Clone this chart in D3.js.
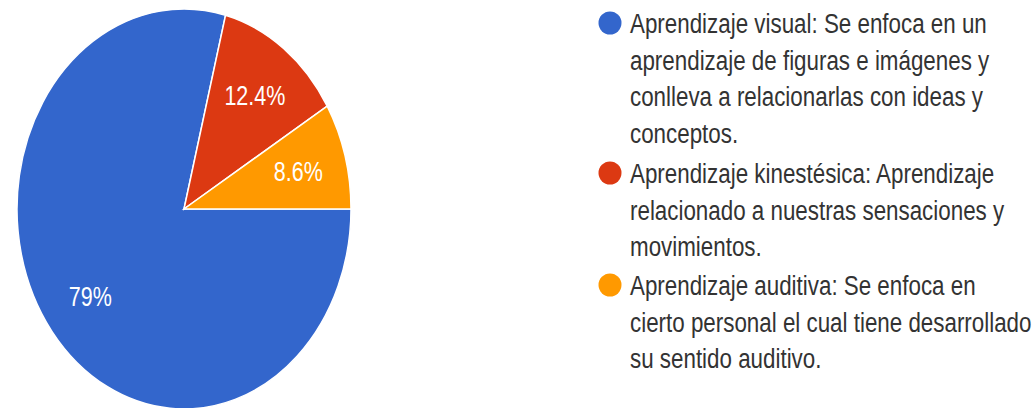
<!DOCTYPE html>
<html>
<head>
<meta charset="utf-8">
<script src="https://cdn.jsdelivr.net/npm/d3@7"></script>
<style>
  body { margin: 0; background: #fff; }
  svg { display: block; }
</style>
</head>
<body>
<svg id="chart" width="1036" height="408"></svg>
<script>
// Chart data
const categories = ["Aprendizaje visual", "Aprendizaje kinestésica", "Aprendizaje auditiva"];
const percents = [79, 12.4, 8.6];
const sliceLabels = ["79%", "12.4%", "8.6%"];
const colors = ["#3366cc", "#dc3912", "#ff9900"];
const legendLines = [
    ["Aprendizaje visual: Se enfoca en un", "aprendizaje de figuras e imágenes y", "conlleva a relacionarlas con ideas y", "conceptos."],
    ["Aprendizaje kinestésica: Aprendizaje", "relacionado a nuestras sensaciones y", "movimientos."],
    ["Aprendizaje auditiva: Se enfoca en", "cierto personal el cual tiene desarrollado", "su sentido auditivo."]
];

const svg = d3.select("#chart");

// Pie is drawn as a circle then stretched into an ellipse (like the source image)
const rx = 167, ry = 200;
const cx = 184, cy = 209;

const pie = d3.pie()
    .sort(null)
    .value(d => d)
    .startAngle(Math.PI / 2)
    .endAngle(Math.PI / 2 + 2 * Math.PI);

const arc = d3.arc().innerRadius(0).outerRadius(rx);
const labelArc = d3.arc().innerRadius(rx * 0.71).outerRadius(rx * 0.71);

const pieG = svg.append("g")
    .attr("transform", `translate(${cx},${cy}) scale(1,${ry / rx})`);

const arcs = pie(percents);

pieG.selectAll("path")
    .data(arcs)
    .enter()
    .append("path")
    .attr("d", arc)
    .style("fill", (d, i) => colors[i])
    .style("stroke", "#fff")
    .style("stroke-width", 1.5)
    .attr("vector-effect", "non-scaling-stroke");

const font = "'Liberation Sans', Arial, sans-serif";

// Slice labels, squeezed horizontally like the source
svg.selectAll("text.slice")
    .data(arcs)
    .enter()
    .append("text")
    .attr("class", "slice")
    .attr("text-anchor", "middle")
    .attr("dy", "0.36em")
    .style("font-family", font)
    .style("font-size", "27px")
    .style("fill", "#fff")
    .text((d, i) => sliceLabels[i]);

let w12 = svg.selectAll("text.slice").nodes()[1].getComputedTextLength();
let sx = 61 / w12;
svg.selectAll("text.slice")
    .attr("transform", d => {
        let c = labelArc.centroid(d);
        return `translate(${cx + c[0]},${cy + c[1] * ry / rx}) scale(${sx},1)`;
    });

// Legend
const lineGap = 36.5;
const legendTops = [23, 173, 285];

const legend = svg.selectAll("g.legend")
    .data(categories)
    .enter()
    .append("g")
    .attr("class", "legend")
    .attr("transform", (d, i) => `translate(0,${legendTops[i]})`);

legend.append("circle")
    .attr("cx", 610)
    .attr("cy", 0)
    .attr("r", 11.5)
    .style("fill", (d, i) => colors[i]);

legend.each(function(d, i) {
    let g = d3.select(this);
    legendLines[i].forEach((line, j) => {
        g.append("text")
            .attr("class", "lt")
            .attr("y", j * lineGap)
            .attr("dy", "0.36em")
            .style("font-family", font)
            .style("font-size", "28px")
            .style("fill", "#333")
            .text(line);
    });
});

// fit the first line to the width seen in the source
let firstW = svg.select("text.lt").node().getComputedTextLength();
let lx = 357 / firstW;
svg.selectAll("text.lt")
    .attr("transform", `translate(630,0) scale(${lx},1)`);
</script>
</body>
</html>
